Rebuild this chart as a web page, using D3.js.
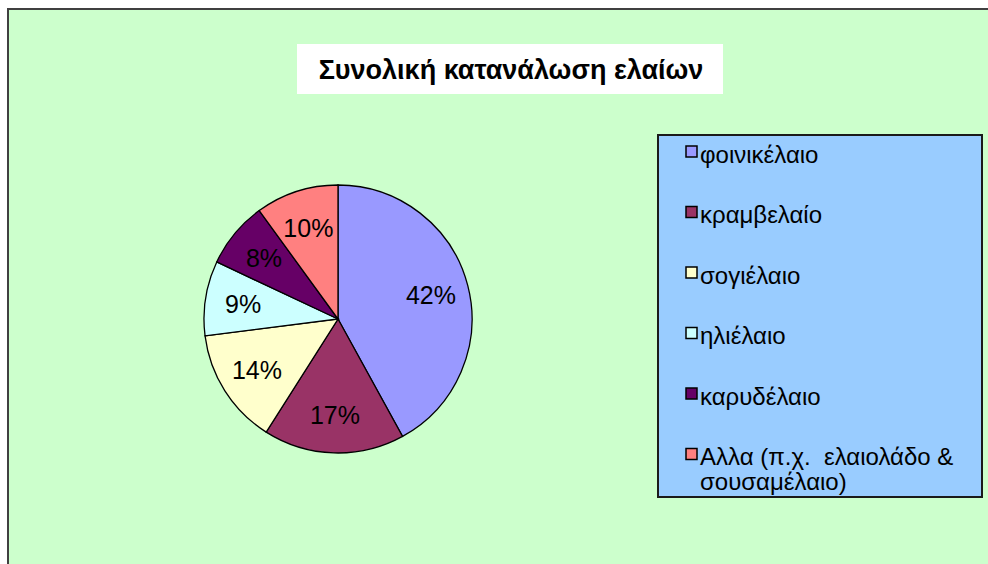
<!DOCTYPE html>
<html>
<head>
<meta charset="utf-8">
<script src="https://cdn.jsdelivr.net/npm/d3@7"></script>
<style>
  body { margin: 0; background: #fff; }
  text { font-family: "Liberation Sans", Arial, sans-serif; }
</style>
</head>
<body>
<div id="chart"></div>
<script>
var width = 988, height = 564;

var title = "Συνολική κατανάλωση ελαίων";
var categories = ["φοινικέλαιο", "κραμβελαίο", "σογιέλαιο", "ηλιέλαιο", "καρυδέλαιο", "Αλλα (π.χ.  ελαιολάδο & σουσαμέλαιο)"];
var legendLines = [["φοινικέλαιο"], ["κραμβελαίο"], ["σογιέλαιο"], ["ηλιέλαιο"], ["καρυδέλαιο"], ["Αλλα (π.χ.  ελαιολάδο &", "σουσαμέλαιο)"]];
var values = [42, 17, 14, 9, 8, 10];
var colors = ["#9999ff", "#993366", "#ffffcc", "#ccffff", "#660066", "#ff8080"];

var svg = d3.select("#chart").append("svg")
	.attr("width", width)
	.attr("height", height);

// chart area
svg.append("rect")
	.attr("x", 8).attr("y", 9)
	.attr("width", width + 10).attr("height", height + 10)
	.attr("fill", "#ccffcc")
	.attr("stroke", "#404040")
	.attr("stroke-width", 2);

// title
svg.append("rect")
	.attr("x", 297).attr("y", 44)
	.attr("width", 426).attr("height", 50)
	.attr("fill", "#fff");
svg.append("text")
	.attr("x", 511).attr("y", 79)
	.attr("text-anchor", "middle")
	.attr("font-size", 27)
	.attr("font-weight", "bold")
	.attr("fill", "#000")
	.text(title);

// pie
var cx = 338, cy = 319, r = 134;
var pie = d3.pie().sort(null).value(function(d) { return d; });
var arc = d3.arc().innerRadius(0).outerRadius(r);
var labelArc = d3.arc().innerRadius(96).outerRadius(96);
var color = d3.scaleOrdinal().domain(categories).range(colors);

var g = svg.append("g").attr("transform", "translate(" + cx + "," + cy + ")");
var arcs = pie(values);

g.selectAll("path")
	.data(arcs)
	.enter()
	.append("path")
	.attr("d", arc)
	.attr("fill", function(d, i) { return color(categories[i]); })
	.attr("stroke", "#000")
	.attr("stroke-width", 1.3);

g.selectAll("text")
	.data(arcs)
	.enter()
	.append("text")
	.attr("transform", function(d) { return "translate(" + labelArc.centroid(d) + ")"; })
	.attr("text-anchor", "middle")
	.attr("dy", "0.36em")
	.attr("font-size", 25)
	.attr("fill", "#000")
	.text(function(d) { return d.data + "%"; });

// legend
svg.append("rect")
	.attr("x", 658).attr("y", 135)
	.attr("width", 324).attr("height", 362)
	.attr("fill", "#99ccff")
	.attr("stroke", "#1a1a1a")
	.attr("stroke-width", 2);

var ly = d3.scaleLinear().domain([0, 5]).range([151.5, 454]);

var items = svg.selectAll(".legend")
	.data(categories)
	.enter()
	.append("g")
	.attr("class", "legend")
	.attr("transform", function(d, i) { return "translate(686," + ly(i) + ")"; });

items.append("rect")
	.attr("x", 0).attr("y", -5.5)
	.attr("width", 11).attr("height", 11)
	.attr("fill", function(d) { return color(d); })
	.attr("stroke", "#000")
	.attr("stroke-width", 1.5);

items.append("text")
	.attr("x", 14).attr("y", 11)
	.attr("font-size", 24)
	.attr("fill", "#000")
	.selectAll("tspan")
	.data(function(d, i) { return legendLines[i]; })
	.enter()
	.append("tspan")
	.attr("x", 14)
	.attr("dy", function(d, j) { return j === 0 ? 0 : 25; })
	.style("white-space", "pre")
	.text(function(d) { return d; });
</script>
</body>
</html>
